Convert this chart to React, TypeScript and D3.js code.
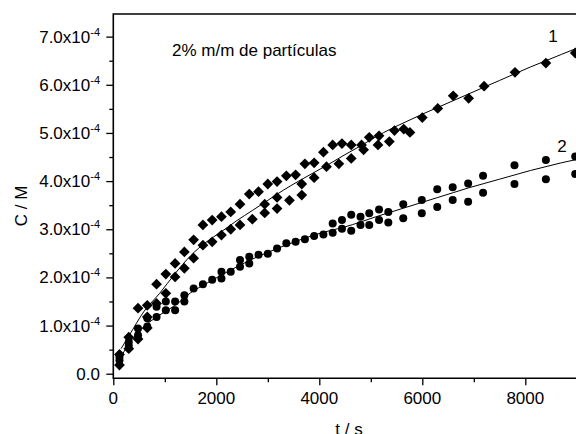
import React, { useEffect, useRef } from "react";
import * as d3 from "d3";

// axis ticks (C in units of 1e-4 M)
const xMajor = [0, 2000, 4000, 6000, 8000];
const xMinor = [1000, 3000, 5000, 7000, 9000];
const yMajor = [0, 1, 2, 3, 4, 5, 6, 7];
const yMinor = [0.5, 1.5, 2.5, 3.5, 4.5, 5.5, 6.5];

// curve 1, diamonds (two runs)
const d1aT = [120, 300, 480, 660, 840, 1020, 1200, 1380, 1560, 1740, 1920, 2100, 2280, 2460, 2640, 2820, 3000, 3180, 3360, 3540, 3720, 3900, 4080, 4260, 4440, 4620, 4820, 4970, 5160, 5460, 5640, 5760, 6000, 6300, 6600, 6900, 7200, 7800, 8400, 8970];
const d1aC = [0.40, 0.76, 1.36, 1.42, 1.86, 2.07, 2.29, 2.53, 2.78, 3.09, 3.19, 3.26, 3.36, 3.52, 3.73, 3.78, 3.94, 3.99, 4.11, 4.13, 4.36, 4.38, 4.60, 4.75, 4.78, 4.75, 4.75, 4.91, 4.94, 5.05, 5.08, 5.01, 5.32, 5.51, 5.77, 5.72, 5.97, 6.26, 6.45, 6.66];
const d1bT = [120, 300, 480, 660, 660, 840, 1020, 1200, 1380, 1560, 1740, 1920, 2100, 2280, 2460, 2700, 2940, 2940, 3180, 3180, 3420, 3660, 3660, 3900, 4140, 4380, 4620, 4860, 5140, 5360];
const d1bC = [0.18, 0.52, 0.72, 0.95, 1.18, 1.46, 1.67, 2.01, 2.19, 2.40, 2.67, 2.74, 2.88, 3.00, 3.09, 3.21, 3.52, 3.34, 3.66, 3.43, 3.60, 3.71, 3.94, 4.07, 4.30, 4.36, 4.47, 4.65, 4.75, 4.82];

// curve 2, circles (two runs)
const c2aT = [120, 300, 480, 660, 840, 1020, 1200, 1380, 1560, 1740, 1920, 2100, 2280, 2460, 2640, 2820, 3000, 3180, 3360, 3540, 3720, 3900, 4080, 4260, 4440, 4620, 4800, 4970, 5160, 5340, 5630, 5990, 6290, 6590, 6890, 7180, 7790, 8400, 8970];
const c2aC = [0.35, 0.66, 0.94, 1.15, 1.39, 1.50, 1.50, 1.63, 1.77, 1.86, 1.95, 2.12, 2.12, 2.36, 2.43, 2.47, 2.49, 2.60, 2.71, 2.74, 2.79, 2.86, 2.89, 3.12, 3.19, 3.30, 3.26, 3.33, 3.41, 3.36, 3.52, 3.61, 3.83, 3.87, 3.95, 4.11, 4.33, 4.44, 4.51];
const c2bT = [120, 300, 480, 660, 840, 1020, 1200, 1380, 2100, 2460, 2640, 4260, 4440, 4620, 4800, 4970, 5160, 5340, 5630, 5990, 6290, 6590, 6890, 7180, 7790, 8400, 8970];
const c2bC = [0.28, 0.58, 0.80, 0.98, 1.18, 1.32, 1.32, 1.50, 1.98, 2.22, 2.29, 2.93, 3.01, 2.97, 3.09, 3.09, 3.19, 3.14, 3.23, 3.33, 3.46, 3.61, 3.57, 3.76, 3.94, 4.04, 4.15];

// fitted curves
const fitT = [150, 300, 600, 900, 1200, 1500, 1800, 2100, 2400, 2700, 3000, 3300, 3600, 3900, 4200, 4500, 4800, 5100, 5400, 5700, 6000, 6300, 6600, 6900, 7200, 7500, 7800, 8100, 8400, 8700, 9000];
const fit1C = [0.52, 0.78, 1.30, 1.67, 2.08, 2.45, 2.73, 2.95, 3.18, 3.39, 3.60, 3.81, 4.00, 4.18, 4.36, 4.55, 4.73, 4.92, 5.09, 5.24, 5.39, 5.53, 5.67, 5.81, 5.95, 6.09, 6.23, 6.37, 6.50, 6.63, 6.76];
const fit2C = [0.35, 0.62, 0.98, 1.22, 1.42, 1.68, 1.87, 2.05, 2.22, 2.38, 2.52, 2.65, 2.77, 2.88, 2.97, 3.05, 3.15, 3.26, 3.36, 3.46, 3.56, 3.66, 3.76, 3.86, 3.95, 4.04, 4.13, 4.22, 4.30, 4.38, 4.45];

const FONT = "'Liberation Sans', Arial, Helvetica, sans-serif";

const App = () => {
  const ref = useRef<SVGSVGElement>(null);

  useEffect(() => {
    const svg = d3.select(ref.current);
    svg.selectAll("*").remove();

    const left = 113.3, top = 14, bottom = 378.3;
    const x = d3.scaleLinear().domain([0, 10000]).range([left, left + 515]);
    const y = d3.scaleLinear().domain([-0.095, 7.47]).range([bottom, top]);

    // ticks
    const tick = (g: any) => {
      g.select(".domain").remove();
      g.selectAll("line").attr("stroke", "#000").attr("stroke-width", 1.3);
    };
    svg.append("g").attr("transform", `translate(${left},0)`)
      .call(d3.axisLeft(y).tickValues(yMajor).tickSize(7).tickFormat(() => "") as any).call(tick);
    svg.append("g").attr("transform", `translate(${left},0)`)
      .call(d3.axisLeft(y).tickValues(yMinor).tickSize(4).tickFormat(() => "") as any).call(tick);
    svg.append("g").attr("transform", `translate(0,${bottom})`)
      .call(d3.axisBottom(x).tickValues(xMajor).tickSize(7).tickFormat(() => "") as any).call(tick);
    svg.append("g").attr("transform", `translate(0,${bottom})`)
      .call(d3.axisBottom(x).tickValues(xMinor).tickSize(4).tickFormat(() => "") as any).call(tick);

    // frame
    svg.append("path")
      .attr("d", `M${x(10000)},${top}H${left}V${bottom}H${x(10000)}`)
      .attr("fill", "none").attr("stroke", "#000").attr("stroke-width", 1.6);

    // y tick labels
    const yl = svg.selectAll(".ylab").data(yMajor).enter().append("text")
      .attr("x", 100).attr("y", (d) => y(d) + 6)
      .attr("text-anchor", "end").attr("font-family", FONT).attr("font-size", 17);
    yl.each(function (d) {
      const t = d3.select(this);
      if (d === 0) {
        t.text("0.0");
      } else {
        t.append("tspan").text(`${d.toFixed(1)}x10`);
        t.append("tspan").attr("dy", -7).attr("font-size", 11).text("-4");
      }
    });

    // x tick labels
    svg.selectAll(".xlab").data(xMajor).enter().append("text")
      .attr("x", (d) => x(d)).attr("y", 404)
      .attr("text-anchor", "middle").attr("font-family", FONT).attr("font-size", 17)
      .text((d) => String(d));

    // axis titles
    svg.append("text").attr("transform", "translate(27,206) rotate(-90)")
      .attr("text-anchor", "middle").attr("font-family", FONT).attr("font-size", 17)
      .text("C / M");
    svg.append("text").attr("x", 349).attr("y", 435)
      .attr("text-anchor", "middle").attr("font-family", FONT).attr("font-size", 17)
      .text("t / s");

    // fitted curves
    const line = d3.line<number>().x((d, i) => x(fitT[i])).y((d) => y(d)).curve(d3.curveMonotoneX);
    [fit1C, fit2C].forEach((c) => {
      svg.append("path").attr("d", line(c)).attr("fill", "none")
        .attr("stroke", "#000").attr("stroke-width", 1);
    });

    // diamonds
    const diamond = d3.symbol().type(d3.symbolSquare).size(58)();
    [[d1aT, d1aC], [d1bT, d1bC]].forEach(([ts, cs]) => {
      svg.append("g").selectAll("path").data(ts).enter().append("path")
        .attr("d", diamond)
        .attr("transform", (d, i) => `translate(${x(d)},${y(cs[i])}) rotate(45)`)
        .attr("fill", "#000");
    });

    // circles
    [[c2aT, c2aC], [c2bT, c2bC]].forEach(([ts, cs]) => {
      svg.append("g").selectAll("circle").data(ts).enter().append("circle")
        .attr("cx", (d) => x(d)).attr("cy", (d, i) => y(cs[i]))
        .attr("r", 4).attr("fill", "#000");
    });

    // annotations
    svg.append("text").attr("x", 172).attr("y", 56)
      .attr("font-family", FONT).attr("font-size", 17).text("2% m/m de partículas");
    svg.append("text").attr("x", 553).attr("y", 41.5).attr("text-anchor", "middle")
      .attr("font-family", FONT).attr("font-size", 17).text("1");
    svg.append("text").attr("x", 562).attr("y", 152).attr("text-anchor", "middle")
      .attr("font-family", FONT).attr("font-size", 17).text("2");
  }, []);

  return (
    <div style={{ position: "absolute", left: 0, top: 0 }}>
      <svg ref={ref} width={576} height={434} style={{ display: "block", background: "#fff" }} />
    </div>
  );
};

export default App;
